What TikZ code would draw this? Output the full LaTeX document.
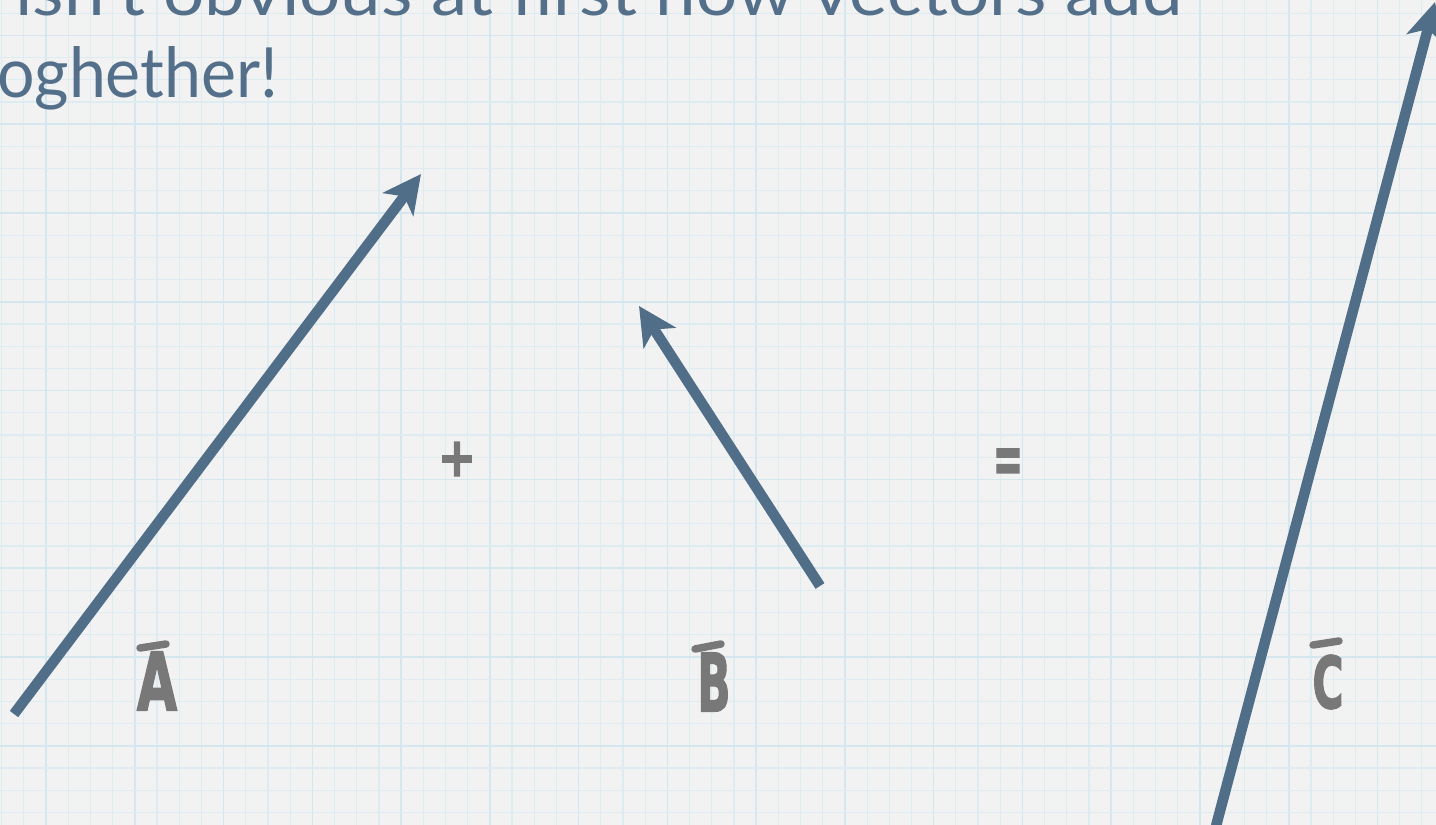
\documentclass[tikz,border=0pt]{standalone}
\usepackage{fontspec}
\usepackage{graphicx}
\usetikzlibrary{arrows.meta}
\setmainfont{Lato}
\newfontfamily\labfont{DejaVu Sans}[BoldFeatures={FakeBold=2.5}]
\definecolor{bg}{HTML}{F2F2F2}
\definecolor{gridc}{HTML}{DDECF1}
\definecolor{gridm}{HTML}{D5E7EE}
\definecolor{vecc}{HTML}{516E89}
\definecolor{titlec}{HTML}{536F89}
\definecolor{labc}{HTML}{787878}
\begin{document}
\begin{tikzpicture}[x=1pt,y=-1pt,
  vec/.style={draw=vecc, line width=10.5pt, -{Stealth[length=38pt,width=38pt,inset=10pt]}},
  titletext/.style={text=titlec, inner sep=0pt},
  lab/.style={text=labc, inner sep=0pt, font=\labfont\bfseries},
  labbar/.style={draw=labc, line width=7.5pt, line cap=round},
  minorline/.style={draw=gridc, line width=1.2pt},
  majorline/.style={draw=gridm, line width=1.6pt}]
\fill[bg] (0,0) rectangle (1436,825);
\useasboundingbox (0,0) rectangle (1436,825);
\clip (0,0) rectangle (1436,825);
% grid
\foreach \k in {0,...,64}{
  \pgfmathsetmacro{\gx}{1.7+22.19*\k}
  \pgfmathtruncatemacro{\m}{mod(\k,4)}
  \ifnum\m=2
    \draw[majorline] (\gx,0) -- (\gx,825);
  \else
    \draw[minorline] (\gx,0) -- (\gx,825);
  \fi
}
\foreach \k in {0,...,36}{
  \pgfmathsetmacro{\gy}{13.1+22.2*\k}
  \pgfmathtruncatemacro{\m}{mod(\k,4)}
  \ifnum\m=1
    \draw[majorline] (0,\gy) -- (1436,\gy);
  \else
    \draw[minorline] (0,\gy) -- (1436,\gy);
  \fi
}
% title
\node[titletext, anchor=base west] (t1) at (15,15) {\resizebox{1167pt}{51pt}{isn't obvious at first how vectors add}};
\node[titletext, anchor=base west] (t2) at (-3,97) {\resizebox{281pt}{51pt}{oghether!}};
% vectors
\coordinate (A0) at (14,714);
\coordinate (A1) at (421,174);
\coordinate (B0) at (820,586);
\coordinate (B1) at (639,306);
\coordinate (C0) at (1216,826);
\coordinate (C1) at (1435,2);
\draw[vec] (A0) -- (A1);
\draw[vec] (B0) -- (B1);
\draw[vec] (C0) -- (C1);
% labels
\node[lab] (la) at (157,681) {\resizebox{40pt}{58pt}{A}};
\node[lab] (lb) at (714,682) {\resizebox{33pt}{58pt}{B}};
\node[lab] (lc) at (1328,682) {\resizebox{31pt}{53pt}{C}};
\draw[labbar] (140,648) -- (166,644);
\draw[labbar] (695,649) -- (721,644);
\draw[labbar] (1313,645) -- (1339,641);
\node[lab] (plus) at (457,459) {\resizebox{38pt}{34pt}{+}};
\node[lab] (eq) at (1008,466) {\resizebox{30pt}{34pt}{=}};
\end{tikzpicture}
\end{document}
